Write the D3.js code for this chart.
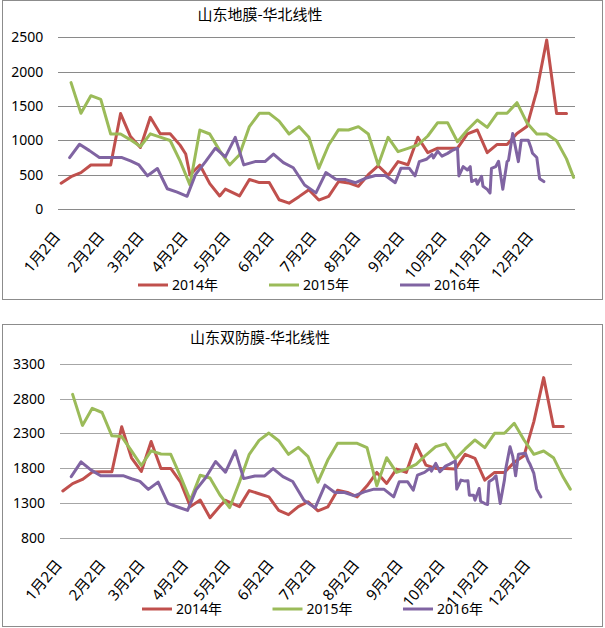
<!DOCTYPE html>
<html><head><meta charset="utf-8">
<script src="https://cdn.jsdelivr.net/npm/d3@7"></script>
<style>
body{margin:0;background:#fff}
svg{display:block}
text{font-family:"Noto Sans","Noto Sans CJK SC",sans-serif;fill:#000}
</style>
</head><body>
<svg id="c" width="605" height="628"></svg>
<script>
// ---------- data ----------
const monthLabels = ["1月2日","2月2日","3月2日","4月2日","5月2日","6月2日","7月2日","8月2日","9月2日","10月2日","11月2日","12月2日"];
const monthTickDates = ["01-02","02-02","03-02","04-02","05-02","06-02","07-02","08-02","09-02","10-02","11-02","12-02"];
const seriesNames = ["2014年","2015年","2016年"];
const seriesColors = ["#C0504D","#9BBB59","#8064A2"];
const topTitle = "山东地膜-华北线性";
const bottomTitle = "山东双防膜-华北线性";
const topYTicks = [0,500,1000,1500,2000,2500];
const bottomYTicks = [800,1300,1800,2300,2800,3300];

const dates2014 = ["01-03","01-10","01-17","01-24","01-31","02-07","02-14","02-21","02-28","03-07","03-14","03-21","03-28","04-01","04-04","04-11","04-18","04-25","04-29","05-09","05-16","05-23","05-30","06-06","06-13","06-20","06-27","07-04","07-11","07-18","07-25","08-01","08-08","08-15","08-22","08-29","09-05","09-12","09-19","09-26","10-03","10-10","10-17","10-24","10-31","11-07","11-14","11-21","11-28","12-05","12-12","12-19","12-26"];
const top2014 = [375,470,530,640,640,640,1390,1055,895,1335,1095,1095,930,800,495,640,370,190,290,190,430,385,385,135,85,180,280,130,185,400,380,330,500,630,490,690,645,1045,820,885,885,885,1095,1150,820,940,940,1100,1200,1720,2460,1390,1390];
const bottom2014 = [1475,1580,1640,1745,1750,1750,2395,1950,1755,2185,1798,1798,1600,1400,1250,1345,1090,1255,1340,1250,1480,1435,1390,1195,1135,1250,1320,1190,1246,1486,1453,1390,1549,1741,1582,1789,1741,2144,1846,1798,1798,1789,2000,1942,1630,1741,1741,1885,1981,2470,3100,2398,2398];

const dates2015 = ["01-10","01-17","01-24","01-31","02-07","02-14","02-21","02-28","03-07","03-14","03-21","03-28","04-04","04-11","04-18","04-25","05-02","05-09","05-16","05-23","05-30","06-06","06-13","06-20","06-27","07-04","07-11","07-18","07-25","08-01","08-08","08-15","08-22","08-29","09-05","09-12","09-19","09-26","10-03","10-10","10-17","10-24","10-31","11-07","11-14","11-21","11-28","12-05","12-12","12-19","12-26","12-31"];
const top2015 = [1840,1393,1650,1597,1092,1092,1007,910,1094,1046,997,700,350,1150,1092,850,641,790,1200,1393,1393,1280,1092,1200,1044,592,932,1155,1150,1199,1092,641,1044,835,883,932,1063,1257,1257,980,1150,1296,1189,1393,1393,1548,1257,1092,1092,995,730,460];
const bottom2015 = [2860,2415,2660,2600,2265,2255,2050,1840,2050,2005,2000,1680,1340,1700,1660,1420,1235,1600,2000,2200,2305,2195,2000,2100,1966,1600,1918,2158,2158,2158,2096,1549,1952,1741,1789,1856,1990,2110,2150,1933,2077,2206,2096,2302,2302,2446,2206,2000,2048,1952,1670,1501];

const dates2016 = ["01-09","01-16","01-23","01-30","02-15","02-21","02-27","03-05","03-12","03-19","03-26","04-02","04-08","04-15","04-22","04-29","05-06","05-12","05-20","05-27","06-02","06-09","06-16","06-24","07-02","07-09","07-16","07-23","07-30","08-06","08-13","08-20","08-27","08-31","09-06","09-10","09-13","09-18","09-22","09-23","09-26","09-29","10-03","10-06","10-10","10-11","10-14","10-17","10-19","10-20","10-23","10-24","10-27","10-28","10-31","11-02","11-03","11-06","11-08","11-11","11-14","11-15","11-18","11-20","11-22","11-24","11-29","12-01","12-02","12-05","12-07","12-10"];
const top2016 = [748,943,850,749,749,700,641,483,590,295,245,185,505,690,885,758,1043,642,690,690,800,675,600,350,235,530,432,428,383,447,488,488,383,592,592,482,690,724,795,745,843,770,810,850,885,482,617,568,617,399,430,360,476,330,286,233,592,617,695,286,690,707,1098,894,690,1000,1000,883,811,750,440,399];
const bottom2016 = [1680,1892,1777,1694,1694,1650,1612,1497,1602,1298,1245,1195,1490,1667,1897,1743,2050,1652,1690,1690,1796,1680,1610,1342,1232,1558,1453,1453,1405,1462,1501,1501,1390,1606,1606,1486,1702,1741,1800,1760,1870,1750,1830,1860,1904,1501,1630,1616,1620,1414,1414,1342,1510,1328,1294,1280,1606,1645,1693,1294,1630,1798,2110,1966,1693,2000,2014,1904,1870,1726,1501,1390];

// ---------- drawing ----------
const parse = d3.timeParse("%m-%d");
const svg = d3.select("#c");

function drawChart(cfg) {
  const g = svg.append("g");
  g.append("rect").attr("x", cfg.box[0]).attr("y", cfg.box[1])
    .attr("width", cfg.box[2]).attr("height", cfg.box[3])
    .attr("fill", "#fff").attr("stroke", "#8c8c8c").attr("stroke-width", 1);

  const x = d3.scaleTime()
    .domain([parse("01-01"), new Date(1901, 0, 1)])
    .range([cfg.left, cfg.right]);
  const y = d3.scaleLinear().domain(cfg.yDomain).range([cfg.bottom, cfg.top]);

  // y axis + gridlines
  const ya = g.append("g").attr("transform", `translate(${cfg.left},0)`)
    .call(d3.axisLeft(y).tickValues(cfg.yTicks).tickSize(-(cfg.right - cfg.left)).tickPadding(cfg.yPad).tickFormat(d3.format("d")));
  ya.select(".domain").remove();
  ya.selectAll(".tick line").attr("stroke", cfg.gridColor).attr("shape-rendering", "crispEdges");
  ya.selectAll(".tick text").attr("font-size", 14).style("font-family", '"Noto Sans",sans-serif');

  // x axis labels
  const xa = g.append("g").attr("transform", `translate(0,${cfg.bottom})`)
    .call(d3.axisBottom(x).tickValues(monthTickDates.map(parse)).tickSize(0)
      .tickFormat((d, i) => monthLabels[i]));
  xa.select(".domain").remove();
  xa.selectAll(".tick text")
    .attr("font-size", 15)
    .attr("text-anchor", "end")
    .attr("x", 0).attr("y", 0).attr("dy", "0.35em")
    .attr("transform", `translate(-3,${cfg.xLabOff}) rotate(-50)`);

  // series
  const line = d3.line().x(d => x(d[0])).y(d => y(d[1]));
  cfg.series.forEach((s, i) => {
    const pts = s.dates.map((d, j) => [parse(d), s.values[j]]);
    g.append("path").datum(pts).attr("d", line)
      .attr("fill", "none").attr("stroke", seriesColors[i])
      .attr("stroke-width", 3).attr("stroke-linejoin", "round").attr("stroke-linecap", "round");
  });

  // title
  g.append("text").attr("x", 260).attr("y", cfg.titleY).attr("text-anchor", "middle")
    .attr("font-size", 15).style("font-family", '"Noto Sans CJK SC",sans-serif').text(cfg.title);

  // legend
  seriesNames.forEach((n, i) => {
    const lx = cfg.legX + i * cfg.legStep;
    g.append("line").attr("x1", lx).attr("x2", lx + 30).attr("y1", cfg.legY).attr("y2", cfg.legY)
      .attr("stroke", seriesColors[i]).attr("stroke-width", 3);
    g.append("text").attr("x", lx + 34).attr("y", cfg.legY).attr("dy", "0.35em")
      .attr("font-size", 14).text(n);
  });
}

drawChart({
  box: [2.5, 0.5, 600, 299],
  left: 58.3, right: 575, top: 37.3, bottom: 209,
  yDomain: [0, 2500], yTicks: topYTicks, yPad: 15, xLabOff: 25, gridColor: "#8a8a8a",
  title: topTitle, titleY: 20,
  legX: 138, legStep: 131, legY: 285,
  series: [
    {dates: dates2014, values: top2014},
    {dates: dates2015, values: top2015},
    {dates: dates2016, values: top2016}
  ]
});

drawChart({
  box: [2.5, 324.5, 600, 302],
  left: 60, right: 571.7, top: 363.7, bottom: 538,
  yDomain: [800, 3300], yTicks: bottomYTicks, yPad: 15, xLabOff: 24, gridColor: "#a6a6a6",
  title: bottomTitle, titleY: 343,
  legX: 142, legStep: 130.5, legY: 609,
  series: [
    {dates: dates2014, values: bottom2014},
    {dates: dates2015, values: bottom2015},
    {dates: dates2016, values: bottom2016}
  ]
});
</script>
</body></html>
